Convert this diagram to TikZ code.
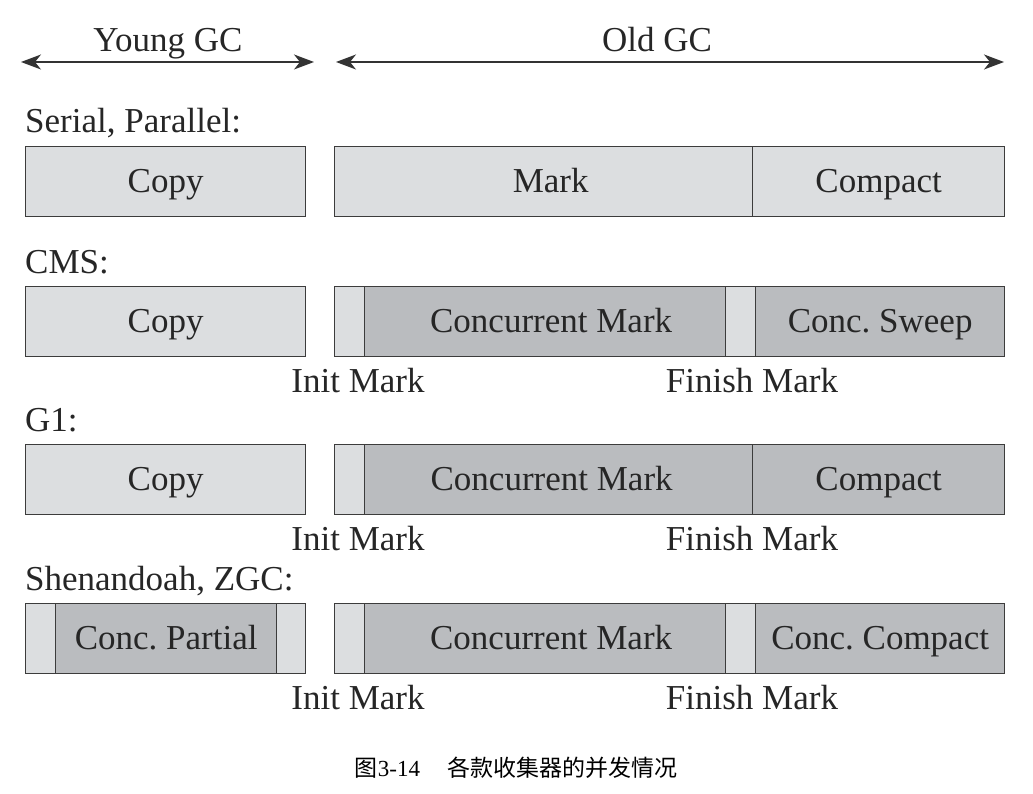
\documentclass[tikz,border=0pt]{standalone}
\usepackage{fontspec}
\setmainfont{Liberation Serif}
\newfontfamily\cjk{Noto Sans CJK SC}
\usetikzlibrary{arrows.meta}
\definecolor{lightfill}{RGB}{220,222,224}
\definecolor{darkfill}{RGB}{186,188,191}
\definecolor{edge}{RGB}{60,60,60}
\frenchspacing
\begin{document}
\begin{tikzpicture}[x=1pt,y=-1pt,
  seg/.style={draw=edge, line width=1.3pt, inner sep=0pt, minimum height=70pt, anchor=north west, font=\fontsize{35}{38}\selectfont, text=black!85, text height=24pt, text depth=2pt},
  lt/.style={seg, fill=lightfill},
  dk/.style={seg, fill=darkfill},
  lab/.style={inner sep=0pt, font=\fontsize{35}{38}\selectfont, text=black!85},
  span/.style={{Stealth[length=20pt,width=15pt,inset=6pt]}-{Stealth[length=20pt,width=15pt,inset=6pt]}, line width=1.5pt, draw=black!80}]
\useasboundingbox[fill=white] (0,0) rectangle (1033,794);

% header arrows
\coordinate (yl) at (21,62); \coordinate (yr) at (314,62);
\coordinate (ol) at (336,62); \coordinate (or) at (1004,62);
\draw[span] (yl) -- (yr);
\draw[span] (ol) -- (or);
\node[lab, anchor=base] (young) at (168,52) {Young GC};
\node[lab, anchor=base] (old) at (657,52) {Old GC};

% row 1
\node[lab, anchor=base west] (r1) at (25,133) {Serial, Parallel:};
\node[lt, minimum width=280pt] (a1) at (25,146) {Copy};
\node[lt, minimum width=418pt] (b1) at (334,146) {\hspace*{14pt}Mark};
\node[lt, minimum width=252pt] (c1) at (752,146) {Compact};

% row 2
\node[lab, anchor=base west] (r2) at (25,273) {CMS:};
\node[lt, minimum width=280pt] (a2) at (25,286) {Copy};
\node[lt, minimum width=30pt] (i2) at (334,286) {};
\node[dk, minimum width=361pt] (m2) at (364,286) {\hspace*{12pt}Concurrent Mark};
\node[lt, minimum width=30pt] (f2) at (725,286) {};
\node[dk, minimum width=249pt] (s2) at (755,286) {Conc. Sweep};
\node[lab, anchor=base] (il2) at (358,392) {Init Mark};
\node[lab, anchor=base] (fl2) at (752,392) {Finish Mark};

% row 3
\node[lab, anchor=base west] (r3) at (25,431) {G1:};
\node[lt, minimum width=280pt] (a3) at (25,444) {Copy};
\node[lt, minimum width=30pt] (i3) at (334,444) {};
\node[dk, minimum width=388pt] (m3) at (364,444) {Concurrent Mark\hspace*{14pt}};
\node[dk, minimum width=252pt] (c3) at (752,444) {Compact};
\node[lab, anchor=base] (il3) at (358,550) {Init Mark};
\node[lab, anchor=base] (fl3) at (752,550) {Finish Mark};

% row 4
\node[lab, anchor=base west] (r4) at (25,590) {Shenandoah, ZGC:};
\node[lt, minimum width=30pt] (y1) at (25,603) {};
\node[dk, minimum width=221pt] (p4) at (55,603) {Conc. Partial};
\node[lt, minimum width=29pt] (y2) at (276,603) {};
\node[lt, minimum width=30pt] (i4) at (334,603) {};
\node[dk, minimum width=361pt] (m4) at (364,603) {\hspace*{12pt}Concurrent Mark};
\node[lt, minimum width=30pt] (f4) at (725,603) {};
\node[dk, minimum width=249pt] (c4) at (755,603) {Conc. Compact};
\node[lab, anchor=base] (il4) at (358,709) {Init Mark};
\node[lab, anchor=base] (fl4) at (752,709) {Finish Mark};

% caption
\node[inner sep=0pt, anchor=base, font=\fontsize{23}{25}\selectfont] (cap) at (516,776) {{\cjk 图}3-14\hspace{27pt}{\cjk 各款收集器的并发情况}};
\end{tikzpicture}
\end{document}
